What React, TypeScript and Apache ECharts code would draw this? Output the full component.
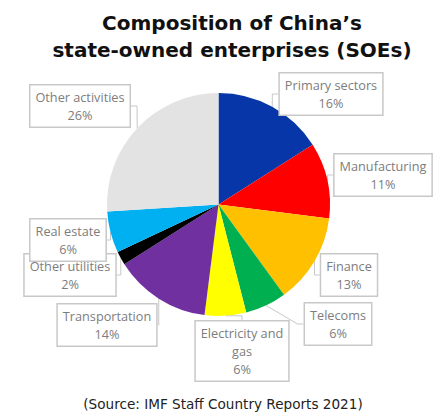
import React, { useEffect, useRef } from "react";
import * as echarts from "echarts";

const categories = [
  "Primary sectors",
  "Manufacturing",
  "Finance",
  "Telecoms",
  "Electricity and gas",
  "Transportation",
  "Other utilities",
  "Real estate",
  "Other activities",
];
const shares = [16, 11, 13, 6, 6, 14, 2, 6, 26];
const colors = [
  "#0636a8",
  "#ff0000",
  "#ffc000",
  "#00b050",
  "#ffff00",
  "#7030a0",
  "#000000",
  "#00b0f0",
  "#e3e3e3",
];
const labelText = [
  "Primary sectors",
  "Manufacturing",
  "Finance",
  "Telecoms",
  "Electricity and\ngas",
  "Transportation",
  "Other utilities",
  "Real estate",
  "Other activities",
];
// label box centres (layout only)
const labelPos: [number, number][] = [
  [331, 94],
  [383, 175],
  [349, 275],
  [338, 324],
  [242, 351],
  [107, 325],
  [70, 275],
  [68, 240],
  [80, 106],
];

export default function App() {
  const ref = useRef<HTMLDivElement>(null);
  useEffect(() => {
    document.body.style.margin = "0";
    const chart = echarts.init(ref.current!, undefined, { renderer: "svg" });
    chart.setOption({
      animation: false,
      backgroundColor: "#ffffff",
      title: {
        text: "Composition of China’s\nstate-owned enterprises (SOEs)",
        left: 227,
        top: 4,
        textAlign: "center",
        textStyle: {
          fontFamily: "DejaVu Sans",
          fontWeight: "bold",
          fontSize: 20,
          lineHeight: 27,
          color: "#111111",
        },
      },
      graphic: [
        {
          type: "text",
          x: 223,
          y: 404,
          style: {
            text: "(Source: IMF Staff Country Reports 2021)",
            fontFamily: "DejaVu Sans",
            fontSize: 13.6,
            fill: "#222222",
            align: "center",
            verticalAlign: "middle",
          },
        },
      ],
      series: [
        {
          type: "pie",
          center: [218.5, 204.5],
          radius: 111.5,
          startAngle: 90,
          clockwise: true,
          avoidLabelOverlap: false,
          data: categories.map((c, i) => ({
            name: c,
            value: shares[i],
            itemStyle: { color: colors[i] },
          })),
          label: {
            show: true,
            formatter: (p: any) => `${labelText[p.dataIndex]}\n${p.value}%`,
            fontFamily: "Open Sans",
            fontSize: 12.7,
            lineHeight: 18,
            color: "#7d7d7d",
            align: "center",
            backgroundColor: "#ffffff",
            borderColor: "#c8c8c8",
            borderWidth: 1.5,
            padding: [3, 5, 2, 5],
          },
          labelLine: {
            show: true,
            length: 8,
            length2: 6,
            lineStyle: { color: "#c8c8c8", width: 1 },
          },
          labelLayout: (params: any) => {
            const p = labelPos[params.dataIndex];
            return {
              x: p[0],
              y: p[1],
              align: "center",
              verticalAlign: "middle",
            };
          },
        },
      ],
    });
    return () => chart.dispose();
  }, []);
  return <div ref={ref} style={{ width: 433, height: 417 }} />;
}
